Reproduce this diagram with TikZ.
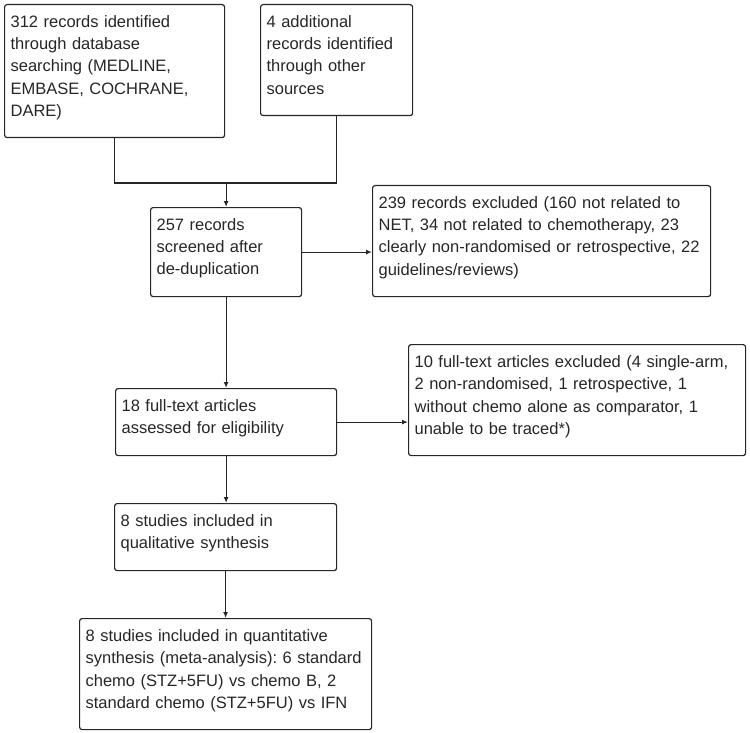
\documentclass[tikz,border=0pt]{standalone}
\usepackage{fontspec}
\setmainfont{Liberation Sans}
\usetikzlibrary{arrows.meta}
\frenchspacing
\definecolor{ink}{HTML}{262626}
\tikzset{
  box/.style={draw=ink, line width=1.2pt, rounded corners=2.5pt, anchor=north west, align=left,
    inner xsep=6pt, inner ysep=0pt, text height=23pt, text=ink,
    font=\fontsize{16.5pt}{22.2pt}\selectfont},
  link/.style={draw=ink, line width=1.2pt},
  arr/.style={link, -{Latex[length=6pt,width=5pt]}}
}
\begin{document}
\begin{tikzpicture}[x=1pt,y=-1pt]
\useasboundingbox (0,0) rectangle (750,733);
\node[box, text width=208pt, text depth=110pt] (A) at (4,4)
  {312 records identified\\through database\\searching (MEDLINE,\\EMBASE, COCHRANE,\\DARE)};
\node[box, text width=140pt, text depth=88pt] (B) at (260,4)
  {4 additional\\records identified\\through other\\sources};
\node[box, text width=139pt, text depth=66pt] (C) at (150,207)
  {257 records\\screened after\\de-duplication};
\node[box, text width=326pt, text depth=88pt] (D) at (372,185)
  {239 records excluded (160 not related to\\NET, 34 not related to chemotherapy, 23\\clearly non-randomised or retrospective, 22\\guidelines/reviews)};
\node[box, text width=209pt, text depth=44pt] (E) at (115,388)
  {18 full-text articles\\assessed for eligibility};
\node[box, text width=325pt, text depth=88pt] (F) at (408,344)
  {10 full-text articles excluded (4 single-arm,\\2 non-randomised, 1 retrospective, 1\\without chemo alone as comparator, 1\\unable to be traced*)};
\node[box, text width=210pt, text depth=44pt] (G) at (114,503)
  {8 studies included in\\qualitative synthesis};
\node[box, text width=280pt, text depth=88pt] (H) at (79,618)
  {8 studies included in quantitative\\synthesis (meta-analysis): 6 standard\\chemo (STZ+5FU) vs chemo B, 2\\standard chemo (STZ+5FU) vs IFN};
\coordinate (J) at (C.north |- 0,183);
\draw[link] (A.south) |- (J) -| (B.south);
\draw[arr] (J) -- (C.north);
\draw[arr] (C.east) -- (C.east -| D.west);
\draw[arr] (C.south) -- (E.north);
\draw[arr] (E.east) -- (E.east -| F.west);
\draw[arr] (E.south) -- (E.south |- G.north);
\draw[arr] (G.south) -- (G.south |- H.north);
\end{tikzpicture}
\end{document}
